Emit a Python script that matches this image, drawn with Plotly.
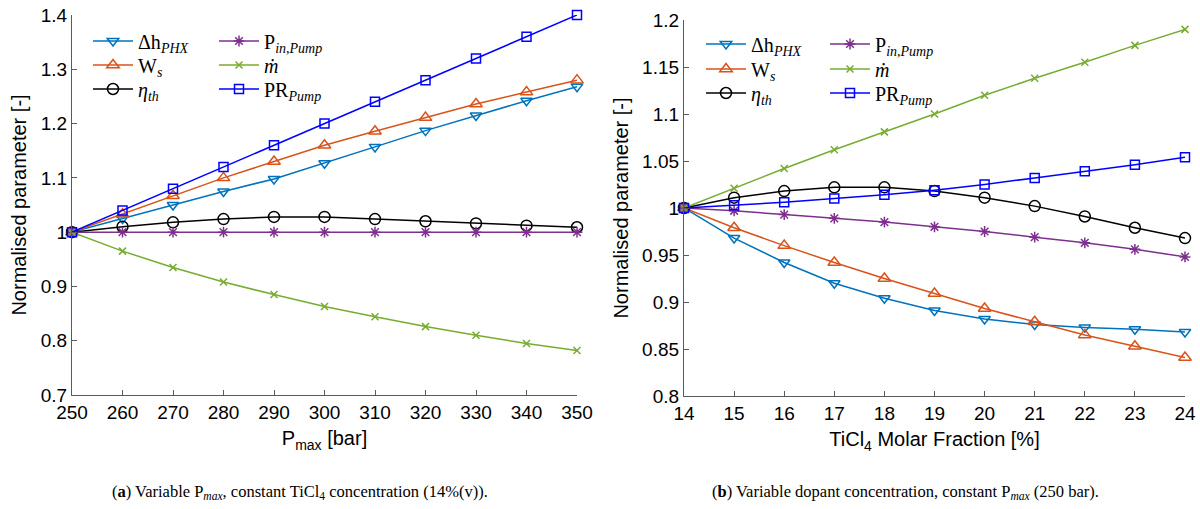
import plotly.graph_objects as go

# ---------------- data ----------------
p_max = [250, 260, 270, 280, 290, 300, 310, 320, 330, 340, 350]
a_dh = [1.0, 1.025, 1.05, 1.075, 1.098, 1.127, 1.157, 1.187, 1.215, 1.242, 1.268]
a_ws = [1.0, 1.033, 1.067, 1.10, 1.13, 1.16, 1.186, 1.211, 1.236, 1.258, 1.28]
a_eta = [1.0, 1.01, 1.018, 1.024, 1.028, 1.028, 1.024, 1.02, 1.016, 1.012, 1.009]
a_pin = [1.0, 1.0, 1.0, 1.0, 1.0, 1.0, 1.0, 1.0, 1.0, 1.0, 1.0]
a_m = [1.0, 0.965, 0.935, 0.908, 0.885, 0.863, 0.844, 0.826, 0.81, 0.795, 0.782]
a_pr = [1.0, 1.04, 1.08, 1.12, 1.16, 1.20, 1.24, 1.28, 1.32, 1.36, 1.40]

ticl4 = [14, 15, 16, 17, 18, 19, 20, 21, 22, 23, 24]
b_dh = [1.0, 0.968, 0.942, 0.92, 0.904, 0.891, 0.882, 0.876, 0.873, 0.871, 0.868]
b_ws = [1.0, 0.979, 0.96, 0.942, 0.925, 0.909, 0.893, 0.879, 0.865, 0.853, 0.841]
b_eta = [1.0, 1.011, 1.018, 1.022, 1.022, 1.018, 1.011, 1.002, 0.991, 0.979, 0.968]
b_pin = [1.0, 0.997, 0.993, 0.989, 0.985, 0.98, 0.975, 0.969, 0.963, 0.956, 0.948]
b_m = [1.0, 1.021, 1.042, 1.062, 1.081, 1.10, 1.12, 1.138, 1.155, 1.173, 1.19]
b_pr = [1.0, 1.003, 1.006, 1.01, 1.014, 1.019, 1.025, 1.032, 1.039, 1.046, 1.054]

a_xticks = [250, 260, 270, 280, 290, 300, 310, 320, 330, 340, 350]
a_yticks = [0.7, 0.8, 0.9, 1.0, 1.1, 1.2, 1.3, 1.4]
a_ytext = ["0.7", "0.8", "0.9", "1", "1.1", "1.2", "1.3", "1.4"]
b_xticks = [14, 15, 16, 17, 18, 19, 20, 21, 22, 23, 24]
b_yticks = [0.8, 0.85, 0.9, 0.95, 1.0, 1.05, 1.1, 1.15, 1.2]
b_ytext = ["0.8", "0.85", "0.9", "0.95", "1", "1.05", "1.1", "1.15", "1.2"]

names = [
    "Δh<sub><i>PHX</i></sub>",
    "W<sub><i>s</i></sub>",
    "<i>η</i><sub><i>th</i></sub>",
    "P<sub><i>in,Pump</i></sub>",
    "<i>ṁ</i>",
    "PR<sub><i>Pump</i></sub>",
]
colors = ["#0072BD", "#D95319", "#000000", "#7E2F8E", "#77AC30", "#0000FF"]
symbols = ["triangle-down-open", "triangle-up-open", "circle-open",
           "asterisk-open", "x-thin-open", "square-open"]
sizes = [10, 11, 11, 9, 7, 9]

# body margin is removed in the page (post_script), so figure fills the window
W = 1200
H = 509
def px_x(p):
    return p / W
def px_y(p):
    return 1 - p / H

fig = go.Figure()

# legend anchor positions (screen pixels)
leg_pos_a = [(88, 41), (88, 65), (88, 89), (214, 41), (214, 65), (214, 89)]
leg_pos_b = [(701, 44), (701, 69), (701, 93), (825, 44), (825, 69), (825, 93)]

leg_common = dict(bgcolor="rgba(0,0,0,0)", borderwidth=0, xanchor="left", yanchor="middle",
                  font=dict(family="Liberation Serif, DejaVu Serif, serif", size=20, color="#000"),
                  itemwidth=40)

panels = [
    ("x", "y", p_max, [a_dh, a_ws, a_eta, a_pin, a_m, a_pr], leg_pos_a, 1),
    ("x2", "y2", ticl4, [b_dh, b_ws, b_eta, b_pin, b_m, b_pr], leg_pos_b, 7),
]
legend_layout = {}
for xa, ya, xv, series, lpos, lstart in panels:
    for i, yv in enumerate(series):
        lid = lstart + i
        lname = "legend" if lid == 1 else f"legend{lid}"
        fig.add_trace(go.Scatter(
            x=xv, y=yv, xaxis=xa, yaxis=ya, name=names[i],
            mode="lines+markers", cliponaxis=False,
            line=dict(color=colors[i], width=1.5),
            marker=dict(symbol=symbols[i], size=sizes[i], color=colors[i],
                        line=dict(color=colors[i], width=1.5)),
            legend=lname,
        ))
        lx, ly = lpos[i]
        legend_layout[lname] = dict(x=px_x(lx), y=px_y(ly), **leg_common)

axis_common = dict(showline=True, linecolor="#5a5a5a", linewidth=1.2,
                   ticks="inside", ticklen=5, tickcolor="#5a5a5a", tickwidth=1,
                   showgrid=False, zeroline=False, mirror=False, automargin=False,
                   ticklabeloverflow="allow",
                   tickfont=dict(family="Liberation Sans, Arial", size=19, color="#000"))
title_font = dict(family="Liberation Sans, Arial", size=20, color="#000")

fig.update_layout(
    width=W, height=H,
    margin=dict(l=0, r=0, t=0, b=0, autoexpand=False),
    paper_bgcolor="white", plot_bgcolor="white",
    showlegend=True,
    xaxis=dict(domain=[px_x(72), px_x(577)], range=[250, 350], anchor="y",
               tickvals=a_xticks,
               title=dict(text="P<sub>max</sub> [bar]", standoff=9, font=title_font),
               **axis_common),
    yaxis=dict(domain=[px_y(395), px_y(15)], range=[0.7, 1.4], anchor="x",
               tickvals=a_yticks, ticktext=a_ytext,
               title=dict(text="Normalised parameter [-]", standoff=8, font=title_font),
               **axis_common),
    xaxis2=dict(domain=[px_x(684), px_x(1185)], range=[14, 24], anchor="y2",
                tickvals=b_xticks,
                title=dict(text="TiCl<sub>4</sub> Molar Fraction [%]", standoff=9, font=title_font),
                **axis_common),
    yaxis2=dict(domain=[px_y(396), px_y(20)], range=[0.8, 1.2], anchor="x2",
                tickvals=b_yticks, ticktext=b_ytext,
                title=dict(text="Normalised parameter [-]", standoff=8, font=title_font),
                **axis_common),
    **legend_layout,
)

cap_font = dict(family="Liberation Serif, Times New Roman, serif", size=16.5, color="#000")
fig.add_annotation(text="(<b>a</b>) Variable P<sub><i>max</i></sub>, constant TiCl<sub>4</sub> concentration (14%(v)).",
                   x=px_x(300), y=px_y(492), xref="paper", yref="paper",
                   showarrow=False, font=cap_font, xanchor="center", yanchor="middle")
fig.add_annotation(text="(<b>b</b>) Variable dopant concentration, constant P<sub><i>max</i></sub> (250 bar).",
                   x=px_x(905), y=px_y(492), xref="paper", yref="paper",
                   showarrow=False, font=cap_font, xanchor="center", yanchor="middle")

fig.write_html(
    "out.html",
    config={"displayModeBar": False},
    post_script="document.body.style.margin='0';document.body.style.overflow='hidden';",
)
